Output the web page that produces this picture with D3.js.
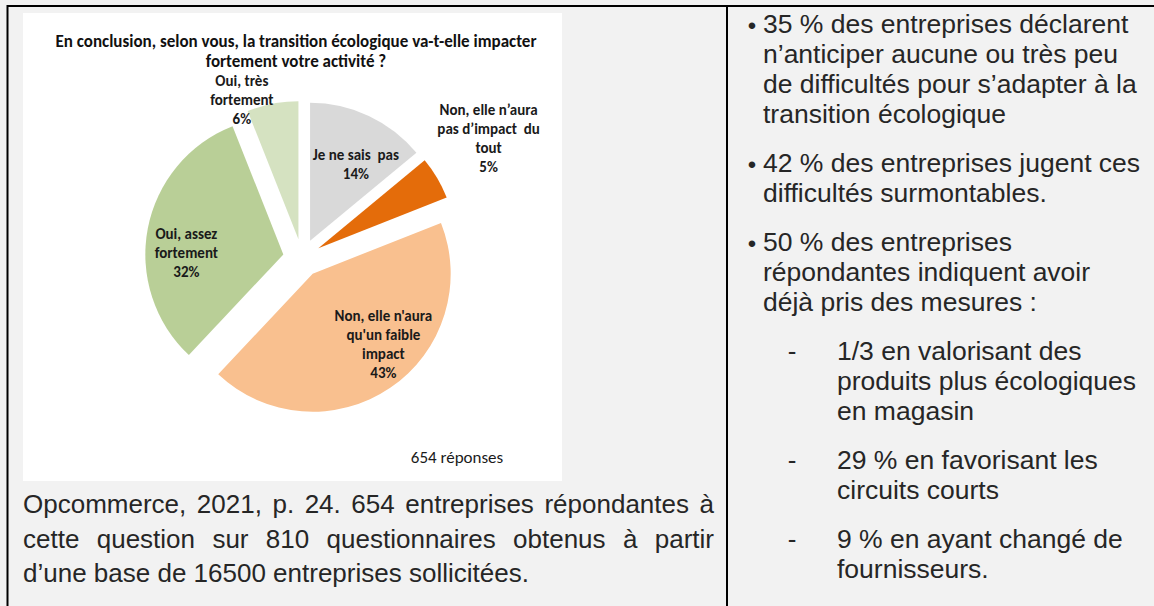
<!DOCTYPE html>
<html>
<head>
<meta charset="utf-8">
<script src="https://cdn.jsdelivr.net/npm/d3@7"></script>
<style>
  body { margin: 0; background: #f2f2f2; }
  svg { display: block; }
</style>
</head>
<body>
<div id="chart"></div>
<script>
// ---- data ----
var categories = ["Je ne sais pas", "Non, elle n’aura pas d’impact du tout", "Non, elle n'aura qu'un faible impact", "Oui, assez fortement", "Oui, très fortement"];
var values = [14, 5, 43, 32, 6];
var labelLines = [
  ["Je ne sais  pas"],
  ["Non, elle n’aura", "pas d’impact  du", "tout"],
  ["Non, elle n'aura", "qu'un faible", "impact"],
  ["Oui, assez", "fortement"],
  ["Oui, très", "fortement"]
];
var sliceColors = ["#d9d9d9", "#e46c0a", "#f9c08f", "#b9cf97", "#d5e2c1"];
var titleLines = ["En conclusion, selon vous, la transition écologique va-t-elle impacter", "fortement votre activité ?"];
var responses = "654 réponses";
var sourceLines = [
  "Opcommerce, 2021, p. 24. 654 entreprises répondantes à",
  "cette question sur 810 questionnaires obtenus à partir",
  "d’une base de 16500 entreprises sollicitées."
];
var bulletItems = [
  { level: 0, lines: ["35 % des entreprises déclarent", "n’anticiper aucune ou très peu", "de difficultés pour s’adapter à la", "transition écologique"] },
  { level: 0, lines: ["42 % des entreprises jugent ces", "difficultés surmontables."] },
  { level: 0, lines: ["50 % des entreprises", "répondantes indiquent avoir", "déjà pris des mesures :"] },
  { level: 1, lines: ["1/3 en valorisant des", "produits plus écologiques", "en magasin"] },
  { level: 1, lines: ["29 % en favorisant les", "circuits courts"] },
  { level: 1, lines: ["9 % en ayant changé de", "fournisseurs."] }
];

// ---- layout ----
var W = 1154, H = 606;
var calibri = "Carlito, 'Liberation Sans Narrow', 'DejaVu Sans Condensed', sans-serif";
var arial = "'Liberation Sans', Arial, sans-serif";
// label placement: [angle in degrees, distance] from each exploded slice tip
var labelPlace = [[31, 89], [57, 203], [135, 100], [271, 97], [338, 151]];

var svg = d3.select("#chart").append("svg")
  .attr("width", W)
  .attr("height", H);

svg.append("rect").attr("width", W).attr("height", H).attr("fill", "#f2f2f2");

// table rules
svg.append("line").attr("x1", 7).attr("x2", W).attr("y1", 6).attr("y2", 6)
  .attr("stroke", "#000").attr("stroke-width", 2);
svg.append("line").attr("x1", 7.5).attr("x2", 7.5).attr("y1", 5).attr("y2", H)
  .attr("stroke", "#000").attr("stroke-width", 2);
svg.append("line").attr("x1", 727).attr("x2", 727).attr("y1", 5).attr("y2", H)
  .attr("stroke", "#000").attr("stroke-width", 2);

// chart picture
svg.append("rect")
  .attr("x", 23).attr("y", 13)
  .attr("width", 539).attr("height", 468)
  .attr("fill", "#fff");

svg.selectAll("text.title")
  .data(titleLines)
  .enter().append("text")
  .attr("class", "title")
  .attr("x", 296)
  .attr("y", function (d, i) { return 47 + i * 20; })
  .attr("text-anchor", "middle")
  .style("font-family", calibri)
  .style("font-weight", "bold")
  .style("font-size", "17px")
  .style("fill", "#111")
  .text(function (d) { return d; });

var pieData = d3.pie().sort(null).startAngle(0).value(function (d) { return d; })(values);
var radius = 138, explode = 19;
var arc = d3.arc().innerRadius(0).outerRadius(radius);

var pie = svg.append("g").attr("transform", "translate(302,258)");

var slice = pie.selectAll("g.slice")
  .data(pieData)
  .enter().append("g")
  .attr("class", "slice")
  .attr("transform", function (d) {
    var a = (d.startAngle + d.endAngle) / 2;
    return "translate(" + (explode * Math.sin(a)) + "," + (-explode * Math.cos(a)) + ")";
  });

slice.append("path")
  .attr("d", arc)
  .attr("fill", function (d, i) { return sliceColors[i]; });

var label = slice.append("text")
  .attr("transform", function (d, i) {
    var a = labelPlace[i][0] * Math.PI / 180, r = labelPlace[i][1];
    return "translate(" + (r * Math.sin(a)) + "," + (-r * Math.cos(a)) + ")";
  })
  .attr("text-anchor", "middle")
  .style("font-family", calibri)
  .style("font-weight", "bold")
  .style("font-size", "15px")
  .style("fill", "#1a1a1a");

label.each(function (d, i) {
  var lines = labelLines[i].concat([d.data + "%"]);
  var t = d3.select(this);
  var top = -(lines.length - 1) * 19 / 2;
  lines.forEach(function (l, k) {
    t.append("tspan")
      .attr("x", 0)
      .attr("y", top + k * 19)
      .attr("dy", "0.35em")
      .style("white-space", "pre")
      .text(l);
  });
});

svg.append("text")
  .attr("x", 457).attr("y", 463)
  .attr("text-anchor", "middle")
  .style("font-family", calibri)
  .style("font-size", "17px")
  .style("fill", "#1a1a1a")
  .text(responses);

// source text (justified)
var srcLeft = 23, srcRight = 714;
sourceLines.forEach(function (l, i) {
  var t = svg.append("text")
    .attr("x", srcLeft)
    .attr("y", 513 + i * 34.5)
    .style("font-family", arial)
    .style("font-size", "26px")
    .style("fill", "#262626")
    .text(l);
  if (i < sourceLines.length - 1) {
    var natural = t.node().getComputedTextLength();
    var gaps = l.split(" ").length - 1;
    t.attr("word-spacing", (srcRight - srcLeft - natural) / gaps);
  }
});

// bullet list
var y = 33;
bulletItems.forEach(function (item, n) {
  if (n > 0) y += 19;
  var textX = item.level === 0 ? 763 : 837;
  svg.append("text")
    .attr("x", item.level === 0 ? 752 : 792)
    .attr("y", item.level === 0 ? y + 1 : y)
    .attr("text-anchor", "middle")
    .style("font-family", arial)
    .style("font-size", item.level === 0 ? "24px" : "26px")
    .style("fill", "#262626")
    .text(item.level === 0 ? "•" : "-");
  item.lines.forEach(function (l, k) {
    svg.append("text")
      .attr("x", textX)
      .attr("y", y)
      .style("font-family", arial)
      .style("font-size", "26.5px")
      .style("fill", "#262626")
      .text(l);
    if (k < item.lines.length - 1) y += 30;
  });
  y += 30;
});
</script>
</body>
</html>
